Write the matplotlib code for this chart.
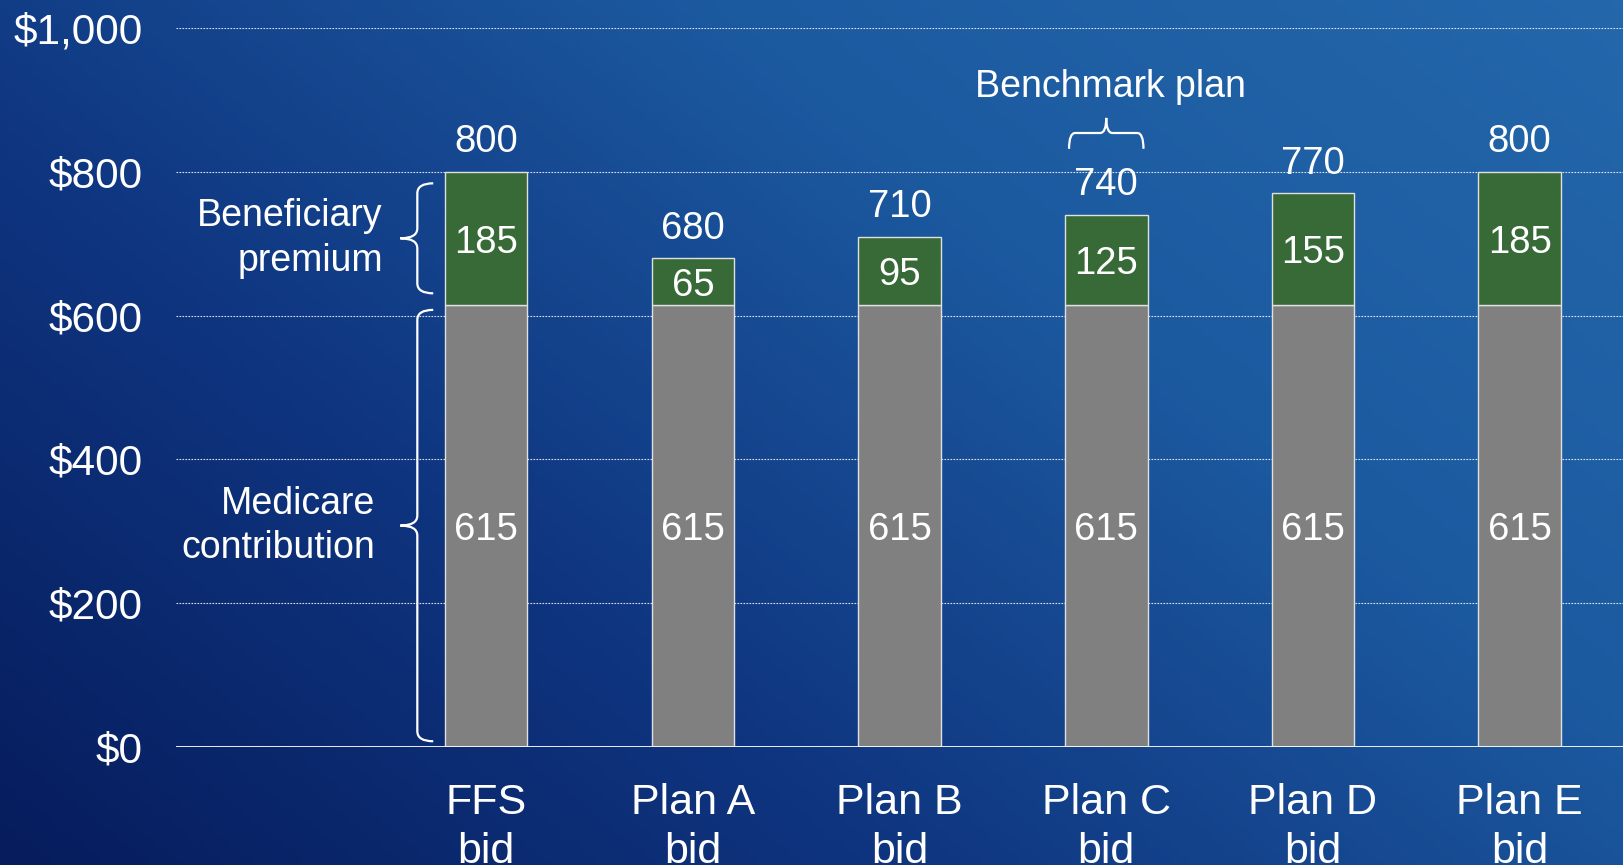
import numpy as np
import matplotlib.pyplot as plt
from matplotlib.path import Path
from matplotlib.patches import PathPatch
from matplotlib.colors import LinearSegmentedColormap

plt.rcParams['font.family'] = ['Liberation Sans', 'DejaVu Sans']

categories = ['FFS\nbid', 'Plan A\nbid', 'Plan B\nbid', 'Plan C\nbid', 'Plan D\nbid', 'Plan E\nbid']
medicare = [615, 615, 615, 615, 615, 615]
premium = [185, 65, 95, 125, 155, 185]
totals = [800, 680, 710, 740, 770, 800]
yticks = [0, 200, 400, 600, 800, 1000]
ytick_labels = ['$0', '$200', '$400', '$600', '$800', '$1,000']

GREEN = '#386a38'
GRAY = '#808080'


def left_brace(ax, x0, x_end, x_tip, y_bot, y_top, ry):
    # vertical curly brace opening to the right
    ym = (y_bot + y_top) / 2
    verts = [(x_end, y_top), (x0, y_top), (x0, y_top - ry),
             (x0, ym + ry),
             (x0, ym), (x_tip, ym),
             (x0, ym), (x0, ym - ry),
             (x0, y_bot + ry),
             (x0, y_bot), (x_end, y_bot)]
    codes = [Path.MOVETO, Path.CURVE3, Path.CURVE3,
             Path.LINETO,
             Path.CURVE3, Path.CURVE3,
             Path.CURVE3, Path.CURVE3,
             Path.LINETO,
             Path.CURVE3, Path.CURVE3]
    ax.add_patch(PathPatch(Path(verts, codes), fill=False, edgecolor='white',
                           lw=1.6, clip_on=False))


def top_brace(ax, x_left, x_right, y0, y_end, y_tip, rx):
    # horizontal curly brace opening downward
    xm = (x_left + x_right) / 2
    verts = [(x_left, y_end), (x_left, y0), (x_left + rx, y0),
             (xm - rx, y0),
             (xm, y0), (xm, y_tip),
             (xm, y0), (xm + rx, y0),
             (x_right - rx, y0),
             (x_right, y0), (x_right, y_end)]
    codes = [Path.MOVETO, Path.CURVE3, Path.CURVE3,
             Path.LINETO,
             Path.CURVE3, Path.CURVE3,
             Path.CURVE3, Path.CURVE3,
             Path.LINETO,
             Path.CURVE3, Path.CURVE3]
    ax.add_patch(PathPatch(Path(verts, codes), fill=False, edgecolor='white',
                           lw=1.6, clip_on=False))


fig = plt.figure(figsize=(16.23, 8.65), dpi=100)

# background gradient, dark navy bottom-left to lighter blue top-right
bg = fig.add_axes([0, 0, 1, 1])
gx, gy = np.meshgrid(np.linspace(0, 1, 400), np.linspace(0, 1, 200))
grad = 0.6 * gx + 0.4 * gy
cmap = LinearSegmentedColormap.from_list('bg', ['#061c5c', '#0f3580', '#1c5aa0', '#2467ab'])
bg.imshow(grad, cmap=cmap, origin='lower', extent=[0, 1, 0, 1], aspect='auto')
bg.axis('off')

ax = fig.add_axes([0.1085, 0.1364, 0.8915, 0.8312])
ax.patch.set_alpha(0)
x = np.arange(len(categories))
w = 0.4

ax.bar(x, medicare, w, color=GRAY, edgecolor='#e0e0e0', linewidth=1, zorder=3)
ax.bar(x, premium, w, bottom=medicare, color=GREEN, edgecolor='#e0e0e0', linewidth=1, zorder=3)

for i in range(len(categories)):
    ax.text(x[i], medicare[i] / 2 - 6, str(medicare[i]), ha='center', va='center',
            color='white', fontsize=27.5, zorder=4)
    ax.text(x[i], medicare[i] + premium[i] / 2 - 6, str(premium[i]), ha='center', va='center',
            color='white', fontsize=27.5, zorder=4)
    ax.text(x[i], totals[i] + 41, str(totals[i]), ha='center', va='center',
            color='white', fontsize=27.5, zorder=4)

ax.set_xlim(-1.5, 5.5)
ax.set_ylim(0, 1000)
ax.set_yticks(yticks)
ax.set_yticklabels(ytick_labels)
ax.set_xticks(x)
ax.set_xticklabels(categories, linespacing=1.3)
ax.tick_params(axis='y', length=0, pad=24, labelsize=30.5, labelcolor='white')
ax.tick_params(axis='x', length=0, pad=26, labelsize=31, labelcolor='white')

for v in yticks[1:]:
    ax.axhline(v, color='white', lw=0.8, ls=(0, (1.5, 1.2)), alpha=0.85, zorder=1)
ax.axhline(0, color='white', lw=2, zorder=5)
for s in ax.spines.values():
    s.set_visible(False)

# braces and annotations
left_brace(ax, -0.333, -0.256, -0.415, 631, 784, 14)
left_brace(ax, -0.333, -0.256, -0.415, 8, 608, 14)
ax.text(-0.50, 707, 'Beneficiary\npremium', ha='right', va='center', color='white',
        fontsize=27, linespacing=1.3)
ax.text(-0.535, 307, 'Medicare\ncontribution', ha='right', va='center', color='white',
        fontsize=27, linespacing=1.3)

top_brace(ax, 2.82, 3.18, 854, 832, 875, 0.03)
ax.text(3.02, 918, 'Benchmark plan', ha='center', va='center', color='white', fontsize=27)

fig.savefig('out.png', dpi=100)
